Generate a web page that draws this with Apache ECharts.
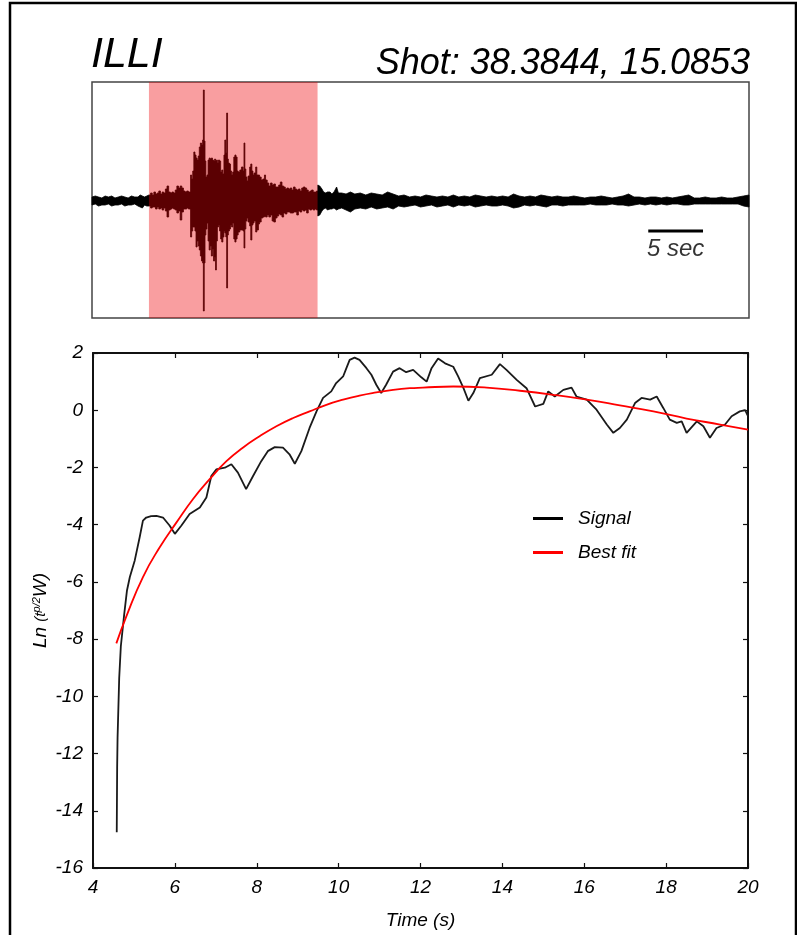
<!DOCTYPE html>
<html>
<head>
<meta charset="utf-8">
<script src="https://cdn.jsdelivr.net/npm/echarts@6/dist/echarts.min.js"></script>
<style>
  html, body { margin: 0; padding: 0; background: #fff; }
  #chart { width: 797px; height: 935px; }
</style>
</head>
<body>
<div id="chart"></div>
<script>
// ---- labels ----
const stationName = 'ILLI';
const shotLabel = 'Shot: 38.3844, 15.0853';
const scaleBarText = '5 sec';

// ---- seismogram envelope: [time (s), upper amplitude, lower amplitude] ----
// background noise before the event (outline joined point to point)
const preEvent = [
  [0.0, 4, -4], [0.3, 5, -3], [0.6, 4, -5], [0.9, 3, -4], [1.2, 5, -4], [1.5, 4, -3],
  [1.8, 5, -5], [2.1, 3, -4], [2.4, 4, -4], [2.7, 5, -3], [3.0, 4, -5], [3.3, 3, -4],
  [3.6, 5, -4], [3.9, 4, -3], [4.2, 4, -5], [4.4, 6, -6], [4.6, 5, -7], [4.8, 4, -4],
  [5.0, 5, -5]
];
// main arrival: each entry holds its peak amplitude until the next entry
const burst = [
  [5.2, 6, -5], [5.35, 8, -7], [5.5, 6, -6], [5.65, 9, -6], [5.8, 7, -8], [5.95, 8, -6],
  [6.1, 10, -8], [6.25, 7, -7], [6.4, 9, -9], [6.55, 8, -7], [6.7, 12, -10], [6.85, 15, -16],
  [7.0, 9, -9], [7.15, 8, -8], [7.3, 9, -7], [7.45, 8, -8], [7.6, 11, -9], [7.75, 15, -12],
  [7.9, 13, -10], [8.05, 15, -19], [8.2, 13, -11], [8.35, 10, -8], [8.5, 9, -8], [8.65, 10, -7],
  [8.8, 9, -8], [9.0, 26, -36], [9.1, 22, -30], [9.2, 30, -26], [9.3, 49, -26], [9.4, 46, -30],
  [9.5, 43, -46], [9.6, 41, -40], [9.7, 45, -45], [9.8, 54, -49], [9.9, 58, -55], [10.0, 56, -60],
  [10.1, 61, -62], [10.17, 111, -110], [10.25, 60, -62], [10.32, 40, -34], [10.4, 24, -28],
  [10.5, 26, -22], [10.6, 41, -40], [10.7, 43, -49], [10.8, 42, -45], [10.9, 43, -55],
  [11.0, 41, -48], [11.1, 40, -60], [11.2, 42, -56], [11.28, 40, -69], [11.36, 41, -40],
  [11.45, 38, -26], [11.55, 41, -24], [11.65, 40, -30], [11.75, 29, -38], [11.85, 31, -41],
  [11.95, 27, -36], [12.05, 46, -30], [12.13, 61, -32], [12.22, 48, -36], [12.3, 88, -87],
  [12.38, 42, -34], [12.45, 38, -30], [12.55, 37, -28], [12.65, 30, -24], [12.75, 26, -26],
  [12.85, 29, -22], [12.95, 44, -38], [13.05, 46, -41], [13.15, 44, -38], [13.25, 30, -34],
  [13.35, 29, -31], [13.5, 31, -29], [13.65, 34, -29], [13.8, 30, -30], [13.88, 58, -47],
  [13.96, 32, -28], [14.05, 24, -20], [14.15, 20, -17], [14.25, 25, -21], [14.4, 34, -25],
  [14.5, 37, -39], [14.6, 30, -24], [14.7, 26, -22], [14.8, 28, -20], [14.95, 34, -31],
  [15.05, 26, -29], [15.2, 26, -23], [15.3, 24, -21], [15.45, 21, -17], [15.6, 22, -16],
  [15.75, 26, -15], [15.85, 21, -16], [16.0, 18, -14], [16.15, 15, -16], [16.3, 18, -14],
  [16.45, 16, -20], [16.6, 17, -21], [16.75, 14, -17], [16.9, 14, -15], [17.05, 16, -13],
  [17.2, 19, -14], [17.35, 15, -16], [17.5, 14, -12], [17.65, 12, -13], [17.8, 13, -11],
  [17.95, 12, -11], [18.1, 13, -12], [18.25, 11, -12], [18.4, 14, -11], [18.55, 12, -11],
  [18.7, 11, -14], [18.85, 12, -10], [19.0, 10, -11], [19.15, 13, -9], [19.3, 14, -10],
  [19.45, 13, -9], [19.6, 11, -12], [19.75, 9, -8], [19.9, 10, -9], [20.05, 11, -8],
  [20.2, 9, -9], [20.35, 9, -8], [20.5, 10, -9]
];
// coda and later noise (outline joined point to point)
const coda = [
  [20.62, 16, -15], [20.8, 15, -14], [21.0, 12, -10], [21.15, 9, -8], [21.35, 8, -7],
  [21.5, 9, -9], [21.74, 9, -8], [21.9, 7, -8], [22.1, 9, -7], [22.34, 14, -9], [22.5, 8, -8],
  [22.8, 8, -7], [23.2, 7, -9], [23.6, 9, -11], [24.0, 7, -8], [24.5, 8, -7], [25.0, 6, -8],
  [25.5, 8, -6], [26.0, 7, -8], [26.5, 6, -7], [27.0, 9, -6], [27.5, 7, -8], [28.0, 5, -5],
  [28.5, 6, -6], [29.0, 4, -5], [29.5, 5, -4], [30.0, 4, -6], [30.5, 6, -5], [31.0, 5, -4],
  [31.5, 4, -6], [32.0, 5, -5], [32.5, 4, -4], [33.0, 6, -6], [33.5, 4, -4], [34.0, 5, -5],
  [34.5, 4, -4], [35.0, 6, -6], [35.5, 5, -5], [36.0, 4, -4], [36.5, 5, -5], [37.0, 4, -5],
  [37.5, 5, -4], [38.0, 4, -5], [38.5, 7, -7], [39.0, 5, -6], [39.5, 4, -4], [40.0, 5, -5],
  [40.5, 4, -4], [41.0, 6, -5], [41.5, 5, -6], [42.0, 4, -4], [42.5, 5, -4], [43.0, 4, -5],
  [43.5, 4, -4], [44.0, 5, -4], [44.5, 4, -4], [45.0, 3, -4], [45.5, 4, -3], [46.0, 4, -4],
  [46.5, 5, -4], [47.0, 4, -4], [47.5, 3, -3], [48.0, 4, -4], [48.5, 5, -4], [49.0, 7, -5],
  [49.5, 4, -4], [50.0, 4, -3], [50.5, 3, -4], [51.0, 4, -3], [51.5, 4, -4], [52.0, 3, -3],
  [52.5, 4, -4], [53.0, 3, -3], [53.5, 4, -3], [54.0, 5, -4], [54.5, 6, -4], [55.0, 3, -3],
  [55.5, 3, -3], [56.0, 4, -3], [56.5, 3, -3], [57.0, 3, -3], [57.5, 4, -3], [58.0, 3, -3],
  [58.5, 3, -3], [59.0, 4, -3], [59.5, 5, -5], [60.0, 6, -6]
];
const eventWindow = [5.2, 20.6];     // seconds, highlighted window
const scaleBarTimes = [50.8, 55.8];  // 5-second scale bar
const scaleBarLevel = -30;

// ---- energy decay: time (s) and Ln(t^{p/2} W) ----
const signalT = [4.58, 4.59, 4.60, 4.64, 4.68, 4.76, 4.83, 4.90, 5.02, 5.14, 5.22, 5.30, 5.42, 5.55, 5.71,
  5.87, 6.00, 6.16, 6.36, 6.61, 6.77, 6.89, 7.01, 7.22, 7.38, 7.54, 7.74, 7.91, 8.11, 8.27, 8.44,
  8.64, 8.80, 8.93, 9.09, 9.29, 9.46, 9.62, 9.82, 9.94, 10.11, 10.19, 10.27, 10.39, 10.51, 10.68,
  10.80, 10.92, 11.04, 11.16, 11.33, 11.49, 11.65, 11.82, 12.02, 12.15, 12.27, 12.43, 12.60, 12.80,
  12.92, 13.05, 13.17, 13.29, 13.45, 13.74, 13.94, 14.10, 14.35, 14.59, 14.80, 15.00, 15.12, 15.28,
  15.49, 15.69, 15.81, 16.06, 16.30, 16.55, 16.71, 16.87, 17.04, 17.24, 17.40, 17.61, 17.77, 17.93,
  18.09, 18.26, 18.38, 18.50, 18.75, 18.91, 19.07, 19.23, 19.44, 19.60, 19.80, 19.93, 20.00];
const signalV = [-14.75, -12.5, -11.45, -9.36, -8.25, -7.16, -6.3, -5.83, -5.25, -4.44, -3.86, -3.75, -3.70, -3.69, -3.75,
  -4.03, -4.32, -4.03, -3.63, -3.40, -3.05, -2.30, -2.07, -2.01, -1.89, -2.18, -2.76, -2.30, -1.78, -1.43, -1.29,
  -1.31, -1.54, -1.87, -1.43, -0.62, -0.04, 0.43, 0.66, 0.95, 1.18, 1.47, 1.76, 1.84, 1.76, 1.47,
  1.24, 0.89, 0.60, 0.89, 1.35, 1.47, 1.33, 1.41, 1.15, 1.00, 1.47, 1.81, 1.64, 1.52,
  1.18, 0.77, 0.33, 0.60, 1.12, 1.24, 1.61, 1.41, 1.06, 0.77, 0.13, 0.22, 0.66, 0.48,
  0.71, 0.79, 0.48, 0.37, 0.02, -0.50, -0.79, -0.62, -0.33, 0.25, 0.43, 0.37, 0.48, 0.08,
  -0.33, -0.44, -0.39, -0.79, -0.39, -0.56, -0.96, -0.62, -0.50, -0.21, -0.04, 0.00, -0.21];
const fitT = [4.57, 4.81, 5.22, 5.63, 6.04, 6.44, 6.85, 7.26, 7.66, 8.07, 8.48, 8.89, 9.29, 9.70,
  10.11, 10.51, 10.92, 11.33, 11.74, 12.06, 12.80, 13.62, 14.43, 15.24, 16.06, 16.87, 17.69, 18.50, 19.32, 20.00];
const fitV = [-8.15, -7.22, -5.83, -4.79, -3.92, -3.11, -2.41, -1.78, -1.31, -0.91, -0.56, -0.27, -0.04, 0.19,
  0.37, 0.51, 0.62, 0.71, 0.77, 0.79, 0.83, 0.79, 0.68, 0.54, 0.37, 0.17, -0.04, -0.29, -0.50, -0.68];

const zip = (xs, ys) => xs.map((x, i) => [x, ys[i]]);

// envelope rows tagged with how the outline continues to the next row
const envelope = [].concat(
  preEvent.map(d => d.concat(0)),
  burst.map(d => d.concat(1)),
  coda.map(d => d.concat(0))
);

const FONT = '"Liberation Sans", Arial, sans-serif';
const italic = { fontStyle: 'italic', fontFamily: FONT, color: '#000' };

// frame-style axis shared by all four sides of the decay plot
function boxAxis(extra) {
  return Object.assign({
    gridIndex: 1, type: 'value',
    axisLine: { onZero: false, lineStyle: { color: '#111', width: 2 } },
    axisTick: { inside: true, length: 5, lineStyle: { color: '#111', width: 1.2 } },
    splitLine: { show: false }
  }, extra);
}

const chart = echarts.init(document.getElementById('chart'), null, { renderer: 'canvas' });

chart.setOption({
  animation: false,
  backgroundColor: '#fff',
  title: [
    { text: stationName, left: 86, top: 29,
      textStyle: Object.assign({ fontSize: 43, fontWeight: 'normal' }, italic) },
    { text: shotLabel, right: 42, top: 41,
      textStyle: Object.assign({ fontSize: 36, fontWeight: 'normal' }, italic) }
  ],
  graphic: [{
    type: 'rect', silent: true, z: 100,
    shape: { x: 10, y: 3, width: 786, height: 960 },
    style: { fill: 'none', stroke: '#000', lineWidth: 2.5 }
  }],
  legend: {
    data: ['Signal', 'Best fit'],
    orient: 'vertical', left: 528, top: 504,
    icon: 'rect', itemWidth: 30, itemHeight: 3, itemGap: 15,
    textStyle: Object.assign({ fontSize: 19, padding: [0, 0, 0, 10] }, italic)
  },
  grid: [
    { left: 92, top: 82, width: 657, height: 236, show: true,
      borderColor: '#444', borderWidth: 1.5, backgroundColor: 'transparent' },
    { left: 93, top: 353, right: 49, bottom: 64 }
  ],
  xAxis: [
    { gridIndex: 0, type: 'value', min: 0, max: 60, show: false },
    boxAxis({ min: 4, max: 20, interval: 2, position: 'bottom',
      axisLabel: Object.assign({ fontSize: 19, margin: 10 }, italic),
      name: 'Time (s)', nameLocation: 'middle', nameGap: 43, nameMoveOverlap: false,
      nameTextStyle: Object.assign({ fontSize: 19 }, italic) }),
    boxAxis({ min: 4, max: 20, interval: 2, position: 'top', axisLabel: { show: false } })
  ],
  yAxis: [
    { gridIndex: 0, type: 'value', min: -117, max: 119, show: false },
    boxAxis({ min: -16, max: 2, interval: 2, position: 'left',
      axisLabel: Object.assign({ fontSize: 19, margin: 10 }, italic),
      name: '{a|Ln }{b|(t}{s|p/2}{a|W)}', nameLocation: 'middle', nameGap: 43, nameRotate: 90,
      nameMoveOverlap: false,
      nameTextStyle: {
        rich: {
          a: Object.assign({ fontSize: 19 }, italic),
          b: Object.assign({ fontSize: 15 }, italic),
          s: Object.assign({ fontSize: 11, verticalAlign: 'top', padding: [0, 0, 8, 0] }, italic)
        }
      } }),
    boxAxis({ min: -16, max: 2, interval: 2, position: 'right', axisLabel: { show: false } })
  ],
  series: [
    // waveform envelope drawn as a single filled outline
    {
      type: 'custom', xAxisIndex: 0, yAxisIndex: 0, z: 2, silent: true,
      data: envelope,
      renderItem: function (params, api) {
        if (params.dataIndex !== 0) return null;
        const upper = [], lower = [];
        envelope.forEach((d, i) => {
          upper.push(api.coord([d[0], d[1]]));
          lower.push(api.coord([d[0], d[2]]));
          const next = envelope[i + 1];
          if (d[3] === 1 && next) {
            upper.push(api.coord([next[0], d[1]]));
            lower.push(api.coord([next[0], d[2]]));
          }
        });
        return {
          type: 'polygon',
          shape: { points: upper.concat(lower.reverse()) },
          style: { fill: '#000', stroke: '#000', lineWidth: 0.8 }
        };
      }
    },
    // highlighted analysis window
    {
      type: 'custom', xAxisIndex: 0, yAxisIndex: 0, z: 5, silent: true,
      data: [eventWindow],
      renderItem: function (params, api) {
        const x0 = api.coord([api.value(0), 0])[0];
        const x1 = api.coord([api.value(1), 0])[0];
        const cs = params.coordSys;
        return {
          type: 'rect',
          shape: { x: x0, y: cs.y, width: x1 - x0, height: cs.height },
          style: { fill: 'rgba(240,0,6,0.38)' }
        };
      }
    },
    // time scale bar
    {
      type: 'line', xAxisIndex: 0, yAxisIndex: 0, z: 6, silent: true,
      data: scaleBarTimes.map(t => [t, scaleBarLevel]),
      symbol: 'none', lineStyle: { color: '#000', width: 3 }
    },
    {
      type: 'scatter', xAxisIndex: 0, yAxisIndex: 0, z: 6, silent: true,
      data: [[(scaleBarTimes[0] + scaleBarTimes[1]) / 2, scaleBarLevel]],
      symbolSize: 0,
      label: Object.assign({ show: true, position: 'bottom', distance: 6, fontSize: 24,
        formatter: scaleBarText }, italic)
    },
    // decay curve and model
    {
      name: 'Signal', type: 'line', xAxisIndex: 1, yAxisIndex: 1, z: 3,
      data: zip(signalT, signalV), symbol: 'none',
      lineStyle: { color: '#1a1a1a', width: 1.8 }, itemStyle: { color: '#000' }
    },
    {
      name: 'Best fit', type: 'line', xAxisIndex: 1, yAxisIndex: 1, z: 4,
      data: zip(fitT, fitV), symbol: 'none', smooth: true,
      lineStyle: { color: '#ff0000', width: 1.8 }, itemStyle: { color: '#ff0000' }
    }
  ]
});
</script>
</body>
</html>
